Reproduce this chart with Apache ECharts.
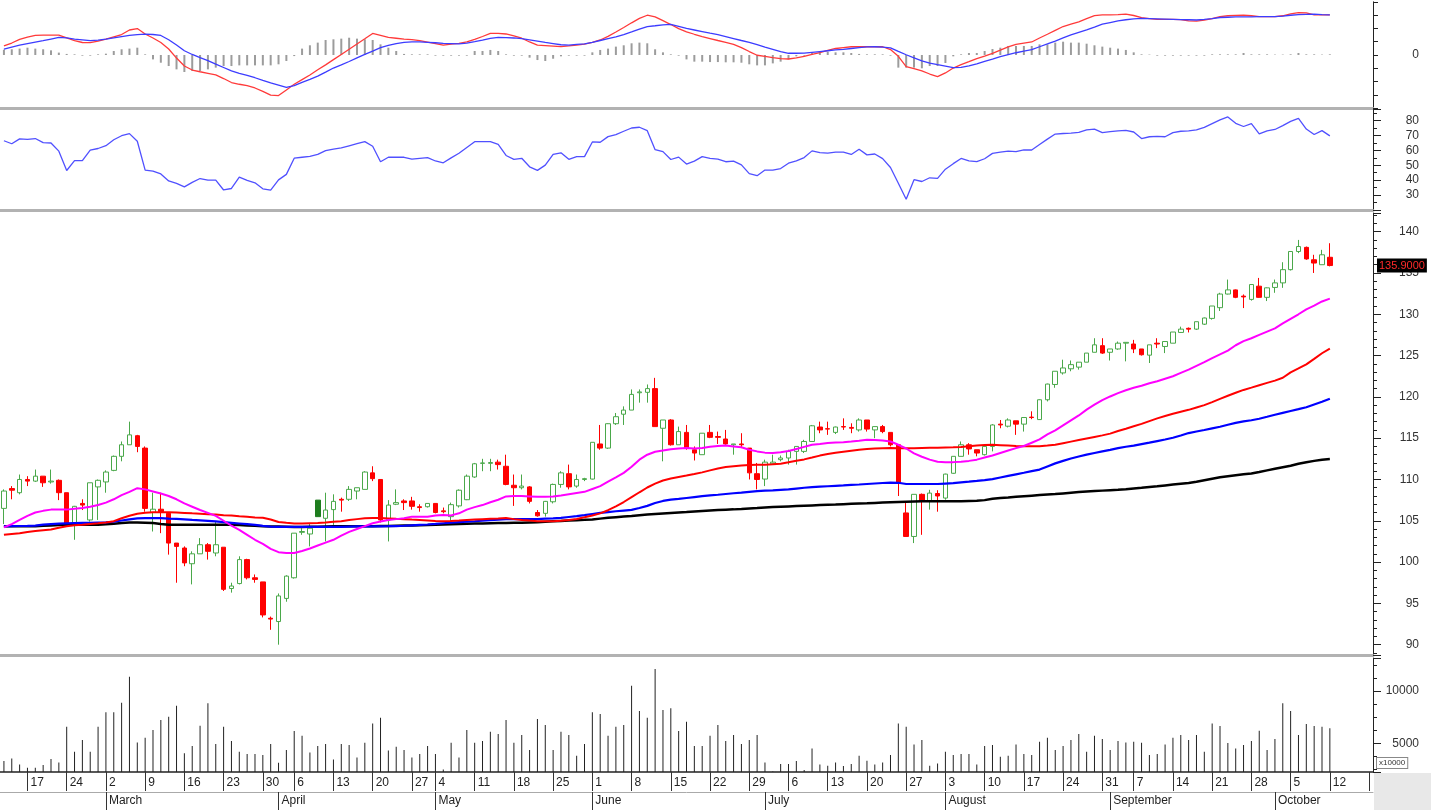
<!DOCTYPE html>
<html><head><meta charset="utf-8">
<script src="https://cdn.jsdelivr.net/npm/echarts/dist/echarts.min.js"></script>
<style>html,body{margin:0;padding:0;background:#fff;}#c{width:1431px;height:810px;}</style>
</head><body><div id="c"></div>
<script>
const YEAR = 2020;
const dates = [
'02-12','02-13','02-14','02-17','02-18','02-19','02-20','02-21','02-24','02-25','02-26','02-27','02-28',
'03-02','03-03','03-04','03-05','03-06','03-09','03-10','03-11','03-12','03-13','03-16','03-17','03-18','03-19','03-20','03-23','03-24','03-25','03-26','03-27','03-30','03-31',
'04-01','04-03','04-06','04-07','04-08','04-09','04-10','04-13','04-14','04-15','04-16','04-17','04-20','04-21','04-22','04-23','04-24','04-27','04-28','04-29',
'05-04','05-05','05-06','05-07','05-08','05-11','05-12','05-13','05-14','05-15','05-18','05-19','05-20','05-21','05-22','05-25','05-26','05-27','05-28','05-29',
'06-01','06-02','06-03','06-04','06-05','06-08','06-09','06-10','06-11','06-12','06-15','06-16','06-17','06-18','06-19','06-22','06-23','06-24','06-25','06-26','06-29','06-30',
'07-01','07-02','07-03','07-06','07-07','07-08','07-09','07-10','07-13','07-14','07-15','07-16','07-17','07-20','07-21','07-22','07-23','07-24','07-27','07-28','07-29','07-30','07-31',
'08-03','08-04','08-05','08-06','08-07','08-10','08-11','08-12','08-13','08-14','08-17','08-18','08-19','08-20','08-21','08-24','08-25','08-26','08-27','08-28','08-31',
'09-01','09-03','09-04','09-07','09-08','09-09','09-10','09-11','09-14','09-15','09-16','09-17','09-18','09-21','09-22','09-23','09-24','09-25','09-28','09-29','09-30',
'10-01','10-02','10-05','10-06','10-07','10-08','10-09','10-12'
];
const futureDates = ['10-13','10-14','10-15','10-16','10-19'];
const monthNames = ['January','February','March','April','May','June','July','August','September','October','November','December'];

const opens = [
106.5,108.9,108.4,110.0,109.8,110.4,109.7,109.9,108.4,104.7,
107.1,105.1,109.1,109.7,111.1,112.8,114.2,115.3,113.8,106.0,
106.4,105.9,102.3,101.7,99.8,101.0,102.1,101.1,101.8,96.8,
97.4,100.3,98.1,97.6,93.2,92.8,95.6,98.1,103.6,103.4,
105.5,105.3,106.35,107.6,107.6,108.6,108.8,110.8,110.0,105.1,
107.0,107.4,107.4,106.7,106.7,107.1,106.2,105.5,106.8,107.55,
110.3,111.95,111.95,112.1,111.6,109.3,109.0,109.1,106.0,105.9,
107.3,109.4,110.7,109.2,110.0,110.05,114.3,113.8,116.75,117.9,
118.4,120.5,120.55,121.0,116.2,117.2,114.2,115.7,113.6,113.0,
115.7,115.2,114.9,114.2,114.3,113.8,110.7,110.05,111.9,112.4,
112.6,113.4,113.4,114.6,116.35,116.15,115.7,116.4,116.3,116.0,
117.2,116.0,116.4,115.7,114.2,105.95,103.1,108.2,107.35,108.3,
107.75,110.75,112.8,114.2,113.6,113.0,114.0,116.7,116.45,117.1,
116.7,117.55,117.25,119.65,121.5,122.9,123.4,123.6,124.2,125.4,
126.2,125.4,125.8,126.5,126.4,125.8,125.05,126.5,126.1,126.5,
127.8,128.3,128.2,128.8,129.5,130.8,132.45,132.95,132.2,131.8,
133.4,132.05,133.25,133.8,135.4,137.6,138.1,136.6,136.0,136.9];
const closes = [
108.6,108.7,110.0,109.8,110.4,109.6,109.8,108.4,104.7,106.75,
106.9,109.6,109.9,110.9,112.8,114.2,115.4,114.0,106.5,106.4,
106.1,102.3,101.9,99.9,101.0,102.1,101.3,102.1,96.7,97.1,
100.3,98.1,97.9,93.6,93.1,95.9,98.3,103.5,103.7,104.1,
107.5,106.3,107.35,107.5,108.8,109.0,110.9,110.1,105.1,106.9,
107.2,107.2,106.75,106.6,107.1,106.0,106.1,106.95,108.7,110.4,
111.9,112.0,112.05,111.8,109.4,109.0,109.2,107.35,105.6,107.35,
109.4,110.8,109.1,110.0,110.1,114.5,113.8,116.75,117.6,118.4,
120.3,120.6,121.0,116.4,117.2,114.2,115.8,113.8,113.2,115.6,
115.1,115.1,114.3,114.3,114.2,110.8,110.0,112.1,112.1,112.6,
113.4,114.0,114.6,116.5,116.0,116.1,116.35,116.35,116.2,117.2,
116.1,116.4,115.8,114.2,109.6,103.1,108.2,107.35,108.35,108.0,
110.65,112.8,114.2,113.7,113.2,114.0,116.6,116.6,117.2,116.7,
117.5,117.5,119.65,121.55,123.1,123.5,123.9,124.2,125.3,126.3,
125.3,125.8,126.5,126.6,125.8,125.1,126.3,126.4,126.7,127.85,
128.2,128.2,129.1,129.55,131.0,132.45,132.95,132.05,132.1,133.6,
132.05,133.2,133.8,135.4,137.6,138.2,136.7,136.2,137.2,135.9];
const highs = [
108.8,109.2,110.6,110.4,111.2,110.4,111.2,110.0,108.4,106.8,
107.6,109.6,110.0,111.1,112.9,114.6,117.0,115.4,114.0,108.4,
108.4,106.0,102.3,101.9,101.3,102.9,102.3,104.9,101.8,97.5,
100.7,100.4,98.5,97.6,93.4,96.2,98.4,103.5,104.1,104.7,
107.5,108.4,108.2,107.8,109.2,109.0,111.0,111.6,110.0,107.5,
108.8,107.6,107.9,107.0,107.1,107.1,106.6,107.2,108.8,110.6,
112.0,112.5,112.5,112.4,113.0,110.6,110.6,109.2,106.3,107.4,
109.5,111.0,111.8,110.6,110.2,114.5,116.6,116.8,118.05,118.85,
120.9,120.9,121.5,122.3,117.2,117.3,116.4,116.6,114.0,115.6,
116.6,115.8,116.0,114.3,115.6,113.8,112.0,112.4,113.0,112.9,
113.6,114.0,114.8,116.6,117.0,117.0,116.4,117.4,116.8,117.4,
117.2,116.4,116.6,115.7,114.2,107.3,108.2,108.3,108.75,108.7,
110.7,112.8,114.6,114.4,113.6,114.1,116.7,117.2,117.4,117.1,
117.5,118.25,119.7,121.6,123.1,124.5,124.4,124.2,125.3,127.1,
127.1,125.8,126.7,126.6,126.9,125.8,126.3,127.1,126.7,127.85,
128.5,128.4,129.1,129.6,131.0,132.6,134.2,133.0,132.4,133.6,
134.4,133.25,134.2,136.3,137.6,139.0,138.2,137.2,137.8,138.6];
const lows = [
104.6,107.6,108.2,109.2,109.7,109.1,109.5,107.5,104.5,102.7,
106.3,104.9,105.1,108.4,111.0,112.2,114.2,113.3,106.1,103.7,
103.5,100.9,97.5,99.5,97.3,101.0,100.3,100.7,96.5,96.3,
97.3,97.9,97.5,93.3,91.8,90.0,95.2,98.0,103.3,101.9,
105.5,102.5,104.5,106.1,107.4,107.6,108.8,109.8,104.8,102.5,
106.9,106.3,106.35,106.1,106.6,105.9,105.9,104.9,106.6,107.5,
110.2,111.0,111.0,111.2,109.3,106.8,108.8,107.1,105.5,105.5,
107.1,109.0,108.8,109.0,109.8,110.0,113.6,113.7,116.6,116.6,
118.4,119.3,119.3,116.4,112.2,114.1,114.2,113.6,112.3,113.0,
115.0,114.3,114.2,113.0,113.8,110.0,108.8,109.2,111.8,112.2,
111.8,111.8,113.2,114.6,115.6,115.4,115.5,116.0,115.6,115.8,
115.8,115.0,115.6,114.0,108.0,103.1,102.3,103.3,106.35,106.1,
107.55,110.7,112.8,113.0,112.8,112.9,113.4,116.2,116.3,115.4,
115.8,117.3,117.2,119.45,121.1,122.7,123.1,123.3,124.2,125.4,
125.2,124.4,125.7,124.3,125.3,125.0,124.1,125.9,125.3,126.5,
127.75,127.8,128.1,128.7,129.35,130.4,132.4,131.95,130.75,131.65,
132.0,131.6,132.6,133.2,135.3,137.4,136.6,135.0,136.0,135.8];
const volumes = [
3300,3561,2988,2669,2669,2924,3497,3179,6589,4199,
5314,4199,6589,7960,7960,8884,11370,5091,5537,6270,
7226,7545,8597,4040,4740,6685,8820,4932,6589,5219,
4199,3976,3976,3880,4932,3147,4358,6175,5729,4135,
4740,4932,3466,4932,4836,3657,5059,6907,7449,4326,
4677,4358,3657,3976,4740,3976,2510,5059,3657,6270,
5059,5219,6111,5888,7226,5059,5792,4358,7322,6748,
4358,6111,5792,3816,4932,7960,7800,5729,6589,6748,
10509,8087,7449,12102,8183,8342,6175,7067,4740,4740,
5729,6748,5219,5792,4932,5314,5792,3179,2300,3020,
3020,3306,2446,4517,2988,2860,3179,2828,3020,3816,
3338,2988,3179,3880,6907,6589,4900,5314,2860,3083,
4199,3880,3976,3976,2988,4740,4836,3720,3816,4900,
3976,3880,5155,5537,4358,4740,5314,5888,4199,5729,
5410,4358,5219,5091,5155,5059,3880,3976,4900,5537,
5792,5314,5792,4199,6907,6653,5027,4517,4836,5219,
6206,4358,5410,8820,8087,5792,6844,6653,6589,6430];
const maMagenta = [
104.2,104.6,105.1,105.6,106.0,106.2,106.35,106.35,106.35,106.45,
106.55,106.7,106.9,107.2,107.6,108.1,108.5,108.95,108.8,108.55,
108.3,108.0,107.6,107.1,106.7,106.3,105.95,105.6,105.0,104.4,
103.9,103.3,102.7,102.2,101.6,101.2,101.1,101.1,101.35,101.65,
102.0,102.35,102.7,103.2,103.65,104.0,104.35,104.7,104.9,105.1,
105.2,105.3,105.5,105.5,105.5,105.65,105.7,105.65,105.9,106.35,
106.65,106.9,107.25,107.55,107.95,108.0,108.0,107.95,107.9,107.9,
107.95,108.05,108.2,108.35,108.5,108.85,109.2,109.75,110.25,110.8,
111.55,112.4,113.0,113.35,113.5,113.65,113.75,113.8,113.75,113.8,
113.95,114.05,114.1,114.0,113.9,113.6,113.4,113.25,113.2,113.3,
113.45,113.7,113.95,114.2,114.3,114.42,114.47,114.52,114.6,114.7,
114.82,114.78,114.73,114.6,114.2,113.75,113.15,112.75,112.4,112.15,
112.08,112.1,112.15,112.25,112.4,112.65,112.9,113.2,113.5,113.8,
114.05,114.45,114.85,115.45,115.95,116.55,117.15,117.75,118.45,119.05,
119.6,120.05,120.45,120.8,121.1,121.35,121.65,121.9,122.2,122.5,
122.9,123.3,123.75,124.2,124.7,125.15,125.6,126.25,126.75,127.1,
127.5,127.9,128.3,128.9,129.45,130.0,130.6,131.05,131.55,131.9];
const maRed = [
103.3,103.4,103.5,103.65,103.75,103.85,103.95,104.15,104.33,104.45,
104.52,104.61,104.7,104.8,104.95,105.3,105.6,105.85,105.97,106.02,
106.02,106.02,106.0,105.95,105.9,105.86,105.8,105.75,105.68,105.63,
105.55,105.48,105.4,105.36,105.15,104.85,104.75,104.68,104.66,104.69,
104.72,104.78,104.87,104.95,105.08,105.2,105.31,105.33,105.33,105.29,
105.23,105.19,105.14,105.1,105.04,104.96,104.94,104.98,105.03,105.09,
105.14,105.19,105.24,105.28,105.33,105.2,105.1,105.02,104.95,104.93,
104.93,105.0,105.09,105.22,105.42,105.63,105.9,106.28,106.74,107.27,
107.86,108.45,109.03,109.5,109.87,110.12,110.3,110.47,110.66,110.86,
111.1,111.33,111.5,111.6,111.69,111.76,111.79,111.79,111.83,111.9,
112.08,112.27,112.43,112.65,112.89,113.08,113.24,113.36,113.48,113.6,
113.68,113.74,113.79,113.8,113.79,113.78,113.79,113.81,113.83,113.85,
113.87,113.89,113.94,114.02,114.1,114.18,114.2,114.15,114.1,114.05,
114.01,114.01,114.01,114.1,114.2,114.39,114.58,114.77,114.96,115.15,
115.34,115.55,115.87,116.15,116.44,116.73,117.07,117.4,117.68,117.95,
118.19,118.43,118.72,119.0,119.37,119.76,120.13,120.5,120.84,121.12,
121.41,121.69,121.97,122.31,122.96,123.44,123.93,124.6,125.28,125.84];
const maBlue = [
104.33,104.35,104.37,104.39,104.42,104.53,104.6,104.66,104.69,104.72,
104.74,104.76,104.78,104.8,104.88,105.03,105.17,105.29,105.33,105.33,
105.32,105.27,105.23,105.17,105.1,105.05,104.99,104.93,104.83,104.75,
104.67,104.59,104.5,104.38,104.3,104.27,104.25,104.25,104.25,104.25,
104.25,104.25,104.25,104.27,104.29,104.31,104.33,104.33,104.33,104.34,
104.36,104.4,104.45,104.5,104.55,104.62,104.7,104.78,104.84,104.89,
104.94,105.0,105.07,105.14,105.21,105.21,105.21,105.21,105.21,105.25,
105.29,105.35,105.46,105.57,105.69,105.82,105.95,106.05,106.15,106.24,
106.32,106.54,106.8,107.15,107.4,107.56,107.65,107.76,107.87,107.98,
108.07,108.15,108.24,108.33,108.41,108.5,108.58,108.64,108.69,108.75,
108.8,108.9,109.0,109.07,109.13,109.18,109.23,109.28,109.34,109.39,
109.45,109.51,109.57,109.63,109.6,109.45,109.45,109.45,109.45,109.45,
109.5,109.55,109.65,109.73,109.82,109.92,110.05,110.24,110.43,110.62,
110.81,111.01,111.2,111.58,111.95,112.25,112.54,112.78,113.01,113.21,
113.4,113.59,113.79,113.96,114.1,114.28,114.46,114.65,114.84,115.05,
115.32,115.62,115.81,115.99,116.19,116.38,116.63,116.85,117.03,117.17,
117.35,117.59,117.84,118.07,118.29,118.51,118.74,119.07,119.4,119.78];
const maBlack = [
104.33,104.33,104.33,104.33,104.34,104.39,104.44,104.48,104.53,104.53,
104.53,104.53,104.53,104.58,104.65,104.72,104.78,104.79,104.76,104.73,
104.62,104.53,104.53,104.53,104.53,104.53,104.53,104.53,104.53,104.52,
104.49,104.44,104.4,104.35,104.32,104.3,104.28,104.26,104.25,104.27,
104.29,104.31,104.33,104.33,104.33,104.33,104.33,104.33,104.36,104.38,
104.4,104.42,104.44,104.46,104.48,104.51,104.54,104.58,104.6,104.63,
104.66,104.68,104.7,104.72,104.73,104.75,104.77,104.79,104.81,104.87,
104.93,104.98,105.03,105.07,105.11,105.16,105.26,105.36,105.44,105.52,
105.59,105.67,105.75,105.81,105.87,105.93,105.99,106.05,106.12,106.19,
106.24,106.29,106.34,106.38,106.43,106.49,106.54,106.6,106.66,106.7,
106.74,106.78,106.82,106.86,106.9,106.94,106.97,107.01,107.05,107.09,
107.12,107.16,107.2,107.24,107.27,107.3,107.33,107.35,107.35,107.35,
107.35,107.35,107.37,107.4,107.42,107.5,107.67,107.75,107.82,107.9,
107.97,108.04,108.11,108.17,108.23,108.31,108.39,108.47,108.55,108.6,
108.65,108.7,108.75,108.81,108.9,108.99,109.09,109.18,109.28,109.38,
109.48,109.58,109.72,109.9,110.08,110.26,110.38,110.5,110.62,110.73,
110.9,111.1,111.29,111.48,111.67,111.9,112.08,112.25,112.4,112.48];
const macdLine = [
0.68,0.90,1.17,1.35,1.48,1.50,1.50,1.49,1.28,1.08,
0.94,0.93,1.05,1.20,1.37,1.54,1.88,1.99,1.58,1.28,
0.94,0.45,-0.23,-0.83,-1.13,-1.26,-1.38,-1.50,-1.77,-2.07,
-2.20,-2.30,-2.48,-2.74,-3.02,-3.05,-2.63,-2.20,-1.85,-1.50,
-1.11,-0.74,-0.35,0.04,0.43,0.83,1.22,1.62,1.47,1.32,
1.26,1.20,1.16,1.08,0.97,0.86,0.75,0.81,0.87,0.98,
1.17,1.39,1.63,1.63,1.58,1.44,1.26,0.98,0.75,0.71,
0.67,0.63,0.68,0.74,0.81,0.95,1.13,1.40,1.73,2.07,
2.42,2.75,2.99,2.86,2.58,2.29,1.98,1.74,1.56,1.39,
1.24,1.09,0.95,0.80,0.56,0.26,-0.02,-0.11,-0.20,-0.27,
-0.30,-0.21,-0.11,0.04,0.18,0.34,0.49,0.56,0.62,0.62,
0.62,0.62,0.62,0.41,-0.10,-0.88,-1.03,-1.20,-1.43,-1.63,
-1.35,-0.98,-0.72,-0.50,-0.27,-0.08,0.12,0.36,0.61,0.80,
0.89,0.98,1.28,1.56,1.85,2.14,2.32,2.49,2.73,2.96,
3.01,3.01,3.03,3.07,2.97,2.81,2.74,2.68,2.68,2.68,
2.66,2.56,2.54,2.62,2.74,2.89,2.95,2.98,3.00,2.95,
2.88,2.88,2.88,2.95,3.09,3.18,3.17,3.01,3.01,3.01];
const signalLine = [
0.45,0.60,0.74,0.86,0.97,1.08,1.20,1.32,1.28,1.20,
1.14,1.08,1.12,1.20,1.29,1.38,1.47,1.53,1.57,1.54,
1.47,1.15,0.75,0.32,0.04,-0.20,-0.42,-0.68,-0.94,-1.20,
-1.38,-1.53,-1.71,-1.91,-2.10,-2.26,-2.43,-2.30,-2.06,-1.83,
-1.59,-1.29,-0.98,-0.74,-0.49,-0.22,0.04,0.29,0.56,0.72,
0.86,0.95,0.98,0.98,0.95,0.92,0.88,0.86,0.83,0.89,
1.00,1.12,1.25,1.32,1.30,1.28,1.23,1.14,1.05,0.95,
0.86,0.77,0.75,0.80,0.83,0.95,1.09,1.23,1.36,1.54,
1.74,1.95,2.14,2.20,2.27,2.31,2.16,2.00,1.88,1.76,
1.64,1.53,1.39,1.24,1.09,0.95,0.78,0.60,0.43,0.26,
0.13,0.13,0.14,0.20,0.26,0.32,0.38,0.43,0.49,0.55,
0.61,0.62,0.59,0.54,0.27,0.02,-0.21,-0.44,-0.61,-0.73,
-0.84,-0.95,-0.93,-0.81,-0.66,-0.48,-0.31,-0.13,0.03,0.17,
0.29,0.41,0.62,0.83,1.05,1.28,1.51,1.70,1.89,2.10,
2.32,2.44,2.56,2.65,2.71,2.75,2.74,2.72,2.70,2.68,
2.66,2.65,2.63,2.68,2.74,2.82,2.84,2.86,2.86,2.87,
2.88,2.88,2.88,2.92,2.99,3.03,3.06,3.08,3.03,3.01];
const macdHist = [
0.40,0.43,0.48,0.55,0.48,0.43,0.35,0.18,0.08,0.05,
-0.05,-0.05,0.05,0.10,0.30,0.43,0.48,0.55,0.05,-0.33,
-0.58,-0.83,-1.08,-1.28,-1.20,-1.20,-1.08,-0.95,-0.83,-0.83,
-0.78,-0.78,-0.78,-0.78,-0.78,-0.70,-0.45,-0.08,0.48,0.73,
0.93,1.13,1.18,1.23,1.30,1.23,1.18,1.13,0.80,0.55,
0.30,0.08,0.05,0.05,0.05,-0.05,-0.05,-0.05,-0.05,-0.05,
0.30,0.30,0.38,0.30,0.05,-0.05,-0.05,-0.20,-0.38,-0.45,
-0.28,-0.10,-0.05,-0.05,-0.05,0.20,0.38,0.48,0.63,0.73,
0.88,0.93,0.88,0.43,0.20,0.05,-0.05,-0.33,-0.50,-0.50,
-0.53,-0.53,-0.55,-0.55,-0.58,-0.70,-0.78,-0.78,-0.63,-0.50,
-0.33,-0.10,-0.05,0.15,0.25,0.25,0.20,0.20,0.15,0.08,
0.05,0.05,0.05,-0.05,-0.95,-0.95,-0.95,-1.00,-0.83,-0.83,
-0.60,-0.10,0.05,0.15,0.15,0.30,0.45,0.55,0.68,0.68,
0.68,0.68,0.80,0.80,0.93,1.00,0.93,0.93,0.85,0.73,
0.63,0.55,0.48,0.38,0.20,0.05,0.03,-0.05,-0.05,-0.05,
-0.05,-0.05,-0.05,-0.05,0.05,0.05,0.05,0.05,0.15,0.05,
0.05,0.05,0.03,0.03,0.05,0.15,0.05,0.05,0.03,0.05];
const rsi = [
66.5,64.5,67.8,67.5,68.0,65.2,65.0,59.5,46.5,53.1,
53.1,60.2,61.3,63.2,67.2,69.9,71.3,66.2,46.8,46.1,
44.2,39.5,37.9,35.5,38.5,41.1,40.0,40.0,33.4,34.4,
42.0,39.8,38.2,34.2,33.3,40.2,43.9,54.8,55.4,56.0,
57.3,59.9,60.9,61.7,63.1,64.5,65.9,62.8,52.4,55.4,
55.4,55.4,54.1,54.7,55.1,52.9,51.7,55.0,58.1,62.0,
65.9,65.9,65.9,64.0,56.6,54.0,54.7,49.0,46.6,50.1,
57.3,58.4,54.0,55.8,55.8,65.7,65.5,69.3,70.6,72.9,
75.1,75.6,73.3,60.5,59.2,53.9,55.5,50.8,52.8,55.8,
54.7,54.1,52.4,52.8,50.3,44.4,43.0,46.8,46.8,47.8,
51.4,53.0,55.2,59.7,58.5,58.2,58.8,58.8,57.3,60.8,
57.0,57.6,54.5,48.5,37.9,27.2,40.3,39.1,41.6,41.2,
47.4,51.1,54.6,53.0,52.4,54.4,58.0,58.8,59.6,59.2,
60.4,60.3,64.0,67.6,71.0,71.4,71.7,72.1,73.8,74.3,
72.0,72.6,73.2,73.5,72.4,68.0,69.2,69.5,69.2,72.0,
72.9,73.1,73.8,75.5,78.0,80.5,82.5,78.2,76.1,78.0,
71.2,73.2,74.1,76.7,79.5,81.5,74.4,70.7,73.3,69.8];
const filledUpIndex = 40;

// ---------- build ----------
const catAll = dates.concat(futureDates);
function isMonday(i){ const p = catAll[i].split('-').map(Number); return new Date(Date.UTC(YEAR, p[0]-1, p[1])).getUTCDay() === 1; }
function isMonthStart(i){ return i > 0 && i < dates.length && catAll[i].slice(0,2) !== catAll[i-1].slice(0,2); }
const FONT = 'Liberation Sans, Arial, sans-serif';
const lastClose = closes[closes.length-1];

const candleData = dates.map((d, i) => {
  const v = [opens[i], closes[i], lows[i], highs[i]];
  if (i === filledUpIndex) return { value: v, itemStyle: { color: '#1e7d1e', borderColor: '#1e7d1e', color0: '#1e7d1e', borderColor0: '#1e7d1e' } };
  return v;
});

function hiddenX(g){
  return { type:'category', gridIndex:g, data:catAll, boundaryGap:true,
    axisLine:{show:true, onZero:false, lineStyle:{color:'#b2b2b2', width:3}}, axisTick:{show:false}, axisLabel:{show:false}, splitLine:{show:false} };
}
function rightY(g, extra){
  return Object.assign({ type:'value', gridIndex:g, position:'right', scale:true,
    axisLine:{show:true, onZero:false, lineStyle:{color:'#222', width:1}},
    axisTick:{show:true, length:8, lineStyle:{color:'#222'}},
    splitLine:{show:false},
    axisLabel:{margin:46, align:'right', fontSize:12, color:'#333', fontFamily:FONT}
  }, extra);
}

const option = {
  animation:false,
  backgroundColor:'#fff',
  grid:[
    {left:0, right:58, top:1.8, height:106.4, outerBoundsMode:'none'},
    {left:0, right:58, top:108.8, height:101.1, outerBoundsMode:'none'},
    {left:0, right:58, top:213, height:442, outerBoundsMode:'none'},
    {left:0, right:58, top:658, height:114, outerBoundsMode:'none'}
  ],
  xAxis:[
    hiddenX(0), hiddenX(1), hiddenX(2),
    { type:'category', gridIndex:3, data:catAll, boundaryGap:true,
      axisLine:{show:true, onZero:false, lineStyle:{color:'#222', width:1.5}},
      axisTick:{show:true, alignWithLabel:true, interval:(i)=>isMonday(i), length:19, lineStyle:{color:'#333'}},
      axisLabel:{interval:(i)=>isMonday(i) && i < dates.length, formatter:(v)=>String(Number(v.split('-')[1])),
        align:'left', padding:[0,0,0,3], margin:5, fontSize:12, color:'#222', fontFamily:FONT},
      splitLine:{show:false} },
    { type:'category', gridIndex:3, data:catAll, boundaryGap:true, position:'bottom', offset:20,
      axisLine:{show:true, onZero:false, lineStyle:{color:'#aaa', width:1}},
      axisTick:{show:true, alignWithLabel:true, interval:(i)=>isMonthStart(i), length:18, lineStyle:{color:'#333'}},
      axisLabel:{interval:(i)=>isMonthStart(i), formatter:(v)=>monthNames[Number(v.split('-')[0])-1],
        align:'left', padding:[0,0,0,3], margin:3, fontSize:12, color:'#222', fontFamily:FONT},
      splitLine:{show:false} }
  ],
  yAxis:[
    rightY(0, {min:-4, max:4, interval:1, axisTick:{show:true, length:5, lineStyle:{color:'#222'}},
      axisLabel:{margin:46, align:'right', fontSize:12, color:'#333', fontFamily:FONT, formatter:(v)=> v===0 ? '0' : ''}}),
    rightY(1, {min:20, max:88, interval:10, minorTick:{show:true, splitNumber:2, length:4, lineStyle:{color:'#222'}},
      axisLabel:{margin:46, align:'right', fontSize:12, color:'#333', fontFamily:FONT, formatter:(v)=> (v>=30 && v<=80 && v%10===0) ? String(v) : ''}}),
    rightY(2, {min:88.75, max:142.26, minInterval:5, maxInterval:5, splitNumber:10,
      minorTick:{show:true, splitNumber:5, length:4, lineStyle:{color:'#222'}},
      axisLabel:{margin:46, align:'right', fontSize:12, color:'#333', fontFamily:FONT, formatter:(v)=> (Math.abs(v/5 - Math.round(v/5))<1e-6) ? String(Math.round(v)) : ''}}),
    rightY(3, {min:2260, max:13155, minInterval:5000, maxInterval:5000, splitNumber:2,
      minorTick:{show:true, splitNumber:4, length:4, lineStyle:{color:'#222'}},
      axisLabel:{margin:46, align:'right', fontSize:12, color:'#333', fontFamily:FONT, formatter:(v)=> (v%5000===0) ? String(v) : ''}})
  ],
  series:[
    { name:'Hist', type:'bar', xAxisIndex:0, yAxisIndex:0, data:macdHist, barWidth:2, itemStyle:{color:'#9c9c9c'} },
    { name:'MACD', type:'line', xAxisIndex:0, yAxisIndex:0, data:macdLine, symbol:'none', lineStyle:{color:'#ff3a3a', width:1.3} },
    { name:'Signal', type:'line', xAxisIndex:0, yAxisIndex:0, data:signalLine, symbol:'none', lineStyle:{color:'#3c3cff', width:1.3} },
    { name:'RSI', type:'line', xAxisIndex:1, yAxisIndex:1, data:rsi, symbol:'none', lineStyle:{color:'#5050ff', width:1.3} },
    { name:'MA4', type:'line', xAxisIndex:2, yAxisIndex:2, data:maBlack, symbol:'none', lineStyle:{color:'#000', width:2.5} },
    { name:'MA3', type:'line', xAxisIndex:2, yAxisIndex:2, data:maBlue, symbol:'none', lineStyle:{color:'#0000ff', width:2.2} },
    { name:'MA2', type:'line', xAxisIndex:2, yAxisIndex:2, data:maRed, symbol:'none', lineStyle:{color:'#ff0000', width:2} },
    { name:'MA1', type:'line', xAxisIndex:2, yAxisIndex:2, data:maMagenta, symbol:'none', lineStyle:{color:'#ff00ff', width:2} },
    { name:'Price', type:'candlestick', xAxisIndex:2, yAxisIndex:2, data:candleData, barWidth:5,
      itemStyle:{color:'#ffffff', color0:'#ff0000', borderColor:'#4aa84a', borderColor0:'#ff0000', borderWidth:1},
      markLine:{ silent:true, symbol:['none','none'], animation:false,
        lineStyle:{color:'rgba(0,0,0,0)', width:0, type:'solid'},
        data:[{ yAxis: lastClose }],
        label:{ show:true, position:'end', distance:4, formatter: lastClose.toFixed(4),
          backgroundColor:'#000', color:'#ff2a2a', fontSize:11, padding:[2,2,1,2], fontFamily:FONT, opacity:1 } } },
    { name:'Volume', type:'bar', xAxisIndex:3, yAxisIndex:3, data:volumes, barWidth:1, itemStyle:{color:'#222'} }
  ],
  graphic:[
    { type:'rect', left:1374, top:773, shape:{width:57, height:37}, style:{fill:'#e8e8e8'}, z:-1 },
    { type:'text', left:1376, top:757, style:{ text:'x10000', fontSize:8, fill:'#333', fontFamily:FONT,
      backgroundColor:'#fff', borderColor:'#888', borderWidth:1, padding:[1,2] } }
  ]
};
const chart = echarts.init(document.getElementById('c'), null, {renderer:'canvas'});
chart.setOption(option);
</script>
</body></html>
